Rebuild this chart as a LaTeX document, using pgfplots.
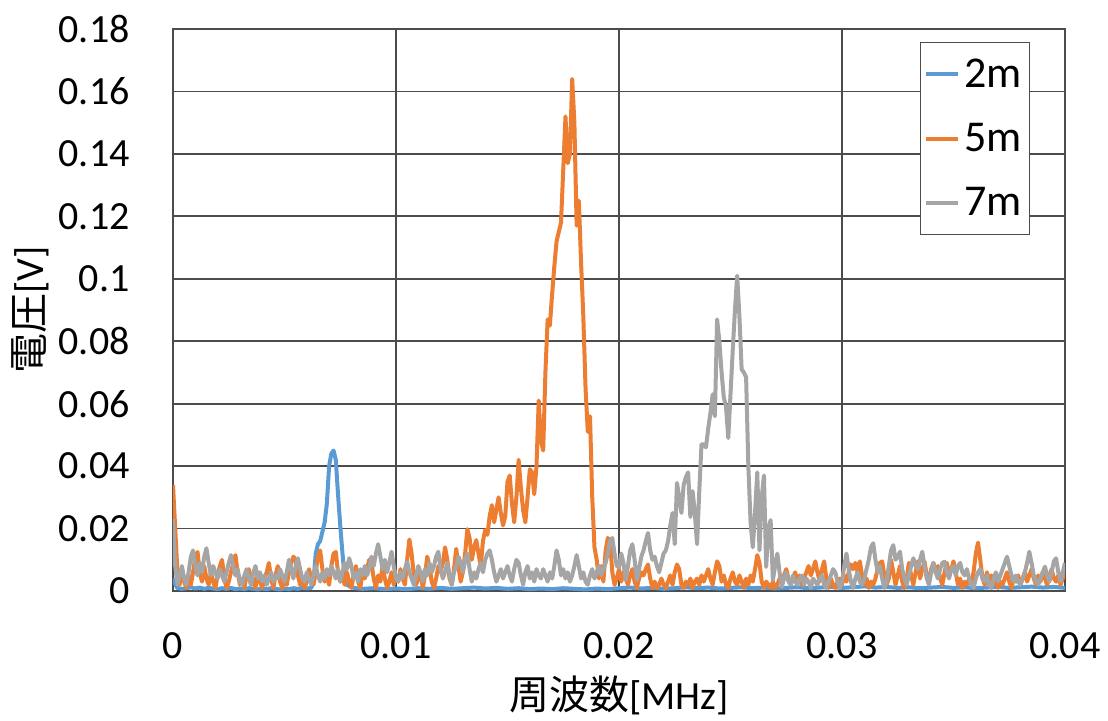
\documentclass[border=0pt]{standalone}
\usepackage{fontspec}
\setmainfont{Carlito}
\newfontfamily\cjk{Noto Sans CJK JP}
\usepackage{pgfplots}
\pgfplotsset{compat=1.18}
\definecolor{cblue}{HTML}{5B9BD5}
\definecolor{corange}{HTML}{ED7D31}
\definecolor{cgray}{HTML}{A5A5A5}
\newcommand{\bigf}{\fontsize{20}{24}\selectfont}
\newcommand{\legf}{\fontsize{22}{26}\selectfont}
\begin{document}
\begin{tikzpicture}
\useasboundingbox (-86.5pt,-64.5pt) rectangle (467.5pt,295.5pt);
\begin{axis}[
  scale only axis, width=446pt, height=281pt,
  xmin=0, xmax=0.04, ymin=0, ymax=0.18,
  xtick={0,0.01,0.02,0.03,0.04},
  xticklabels={0,0.01,0.02,0.03,0.04},
  ytick={0,0.02,0.04,0.06,0.08,0.1,0.12,0.14,0.16,0.18},
  yticklabels={0,0.02,0.04,0.06,0.08,0.1,0.12,0.14,0.16,0.18},
  major tick length=0pt,
  grid=major,
  grid style={black!70, line width=0.9pt},
  axis line style={black!70, line width=0.9pt},
  xticklabel style={font=\bigf, anchor=center, inner sep=0pt, yshift=-27.3pt},
  yticklabel style={font=\bigf, anchor=east, inner sep=0pt, xshift=-21.5pt},
  xlabel={{\cjk 周波数}[MHz]},
  ylabel={{\cjk 電圧}[V]},
  xlabel style={font=\bigf, at={(axis description cs:0.5,-0.185)}, anchor=center},
  ylabel style={font=\bigf, at={(axis description cs:-0.16,0.5)}, anchor=center},
  legend style={font=\legf, draw=black!70, line width=0.6pt, at={(0.961,0.977)}, anchor=north east,
    inner xsep=2pt, inner ysep=6pt, row sep=12.5pt, cells={anchor=west}},
  legend image code/.code={\draw[#1, line width=2pt] (0pt,0pt) -- (16pt,0pt);},
  every axis plot/.append style={line width=2pt, line join=round, mark=none},
]
\addplot[cblue] coordinates {
(0,0.004)(0.0001,0.0022)(0.0002,0.0009)(0.0004,0.0007)(0.0006,0.0009)(0.0008,0.0012)(0.0010,0.0008)
(0.0012,0.0011)(0.0014,0.0007)(0.0016,0.0010)(0.0018,0.0008)(0.0020,0.0006)(0.0022,0.0009)(0.0024,0.0007)
(0.0026,0.0010)(0.0028,0.0006)(0.0030,0.0008)(0.0032,0.0006)(0.0034,0.0009)(0.0036,0.0007)(0.0038,0.0005)
(0.0040,0.0008)(0.0042,0.0006)(0.0044,0.0009)(0.0046,0.0007)(0.0048,0.0005)(0.0050,0.0008)(0.0052,0.0006)
(0.0054,0.0009)(0.0056,0.0007)(0.0058,0.0010)(0.0060,0.0008)(0.0062,0.0010)(0.0063,0.003)(0.0064,0.012)
(0.0065,0.015)(0.0066,0.016)(0.0067,0.019)(0.0068,0.022)(0.0069,0.028)(0.0070,0.040)(0.0071,0.044)
(0.0072,0.045)(0.0073,0.042)(0.0074,0.031)(0.0075,0.021)(0.0076,0.012)(0.0077,0.004)(0.0078,0.002)
(0.0080,0.0012)(0.0082,0.0009)(0.0085,0.0007)(0.0090,0.0009)(0.0095,0.0006)(0.0100,0.0008)(0.0105,0.0006)
(0.0110,0.0009)(0.0115,0.0007)(0.0120,0.0010)(0.0125,0.0007)(0.0130,0.0009)(0.0135,0.0011)(0.0140,0.0008)
(0.0145,0.0010)(0.0150,0.0007)(0.0155,0.0009)(0.0160,0.0006)(0.0165,0.0008)(0.0170,0.0006)(0.0175,0.0009)
(0.0180,0.0007)(0.0185,0.0005)(0.0190,0.0008)(0.0195,0.0006)(0.0200,0.0009)(0.0205,0.0011)(0.0210,0.0008)
(0.0215,0.0010)(0.0220,0.0007)(0.0225,0.0009)(0.0230,0.0012)(0.0235,0.0009)(0.0240,0.0011)(0.0245,0.0008)
(0.0250,0.0010)(0.0255,0.0012)(0.0260,0.0009)(0.0265,0.0011)(0.0270,0.0008)(0.0275,0.0010)(0.0280,0.0012)
(0.0285,0.0009)(0.0290,0.0011)(0.0295,0.0013)(0.0300,0.0010)(0.0305,0.0012)(0.0310,0.0015)(0.0315,0.0011)
(0.0320,0.0013)(0.0325,0.0010)(0.0330,0.0012)(0.0335,0.0009)(0.0340,0.0011)(0.0345,0.0013)(0.0350,0.0010)
(0.0355,0.0012)(0.0360,0.0009)(0.0365,0.0011)(0.0370,0.0013)(0.0375,0.0010)(0.0380,0.0012)(0.0385,0.0014)
(0.0390,0.0011)(0.0395,0.0013)(0.0400,0.0010)
};
\addlegendentry{2m}
\addplot[corange] coordinates {
(0,0.034)(0.0001,0.020)(0.0002,0.006)(0.0003,0.002)(0.0004,0.007)(0.0005,0.003)(0.0006,0.001)(0.0007,0.005)
(0.0008,0.002)(0.0009,0.006)(0.0010,0.011)(0.0011,0.0125)(0.0012,0.006)(0.0013,0.003)(0.0014,0.008)(0.0015,0.004)
(0.0016,0.002)(0.0017,0.006)(0.0018,0.003)(0.0019,0.001)(0.0020,0.005)(0.0021,0.008)(0.0022,0.010)(0.0023,0.004)
(0.0024,0.001)(0.0025,0.003)(0.0026,0.006)(0.0027,0.009)(0.0028,0.0115)(0.0029,0.006)(0.0030,0.002)(0.0031,0.004)
(0.0032,0.001)(0.0033,0.005)(0.0034,0.007)(0.0035,0.002)(0.0036,0.004)(0.0037,0.001)(0.0038,0.006)(0.0039,0.003)
(0.0040,0.001)(0.0041,0.004)(0.0042,0.006)(0.0043,0.009)(0.0044,0.004)(0.0045,0.001)(0.0046,0.005)(0.0047,0.008)
(0.0048,0.003)(0.0049,0.001)(0.0050,0.004)(0.0051,0.002)(0.0052,0.006)(0.0053,0.009)(0.0054,0.011)(0.0055,0.010)
(0.0056,0.005)(0.0057,0.002)(0.0058,0.004)(0.0059,0.001)(0.0060,0.003)(0.0061,0.007)(0.0062,0.004)(0.0063,0.002)
(0.0064,0.006)(0.0065,0.011)(0.0066,0.013)(0.0067,0.007)(0.0068,0.003)(0.0069,0.005)(0.0070,0.002)(0.0071,0.008)
(0.0072,0.012)(0.0073,0.0125)(0.0074,0.006)(0.0075,0.003)(0.0076,0.005)(0.0077,0.002)(0.0078,0.006)(0.0079,0.003)
(0.0080,0.001)(0.0081,0.005)(0.0082,0.008)(0.0083,0.003)(0.0084,0.001)(0.0085,0.006)(0.0086,0.004)(0.0087,0.007)
(0.0088,0.010)(0.0089,0.009)(0.0090,0.004)(0.0091,0.001)(0.0092,0.005)(0.0093,0.003)(0.0094,0.008)(0.0095,0.004)
(0.0096,0.001)(0.0097,0.003)(0.0098,0.006)(0.0099,0.002)(0.0100,0.005)(0.0101,0.003)(0.0102,0.007)(0.0103,0.004)
(0.0104,0.002)(0.0105,0.010)(0.0106,0.0165)(0.0107,0.012)(0.0108,0.005)(0.0109,0.002)(0.0110,0.004)(0.0111,0.006)
(0.0112,0.001)(0.0113,0.005)(0.0114,0.011)(0.0115,0.008)(0.0116,0.003)(0.0117,0.001)(0.0118,0.004)(0.0119,0.008)
(0.0120,0.006)(0.0121,0.009)(0.0122,0.014)(0.0123,0.010)(0.0124,0.004)(0.0125,0.002)(0.0126,0.007)(0.0127,0.0135)
(0.0128,0.008)(0.0129,0.003)(0.0130,0.006)(0.0131,0.012)(0.0132,0.0198)(0.0133,0.017)(0.0134,0.010)(0.0135,0.014)
(0.0136,0.0163)(0.0137,0.012)(0.0138,0.008)(0.0139,0.016)(0.0140,0.0195)(0.0141,0.018)(0.0142,0.024)(0.0143,0.0275)
(0.0144,0.022)(0.0145,0.026)(0.0146,0.030)(0.0147,0.025)(0.0148,0.021)(0.0149,0.024)(0.0150,0.035)(0.0151,0.037)
(0.0152,0.028)(0.0153,0.022)(0.0154,0.030)(0.0155,0.042)(0.0156,0.033)(0.0157,0.026)(0.0158,0.022)(0.0159,0.030)
(0.0160,0.039)(0.0161,0.038)(0.0162,0.031)(0.0163,0.040)(0.0164,0.061)(0.0165,0.048)(0.0166,0.045)(0.0167,0.070)
(0.0168,0.087)(0.0169,0.085)(0.0170,0.095)(0.0171,0.104)(0.0172,0.112)(0.0173,0.115)(0.0174,0.118)(0.0175,0.135)
(0.0176,0.152)(0.0177,0.137)(0.0178,0.140)(0.0179,0.164)(0.0180,0.150)(0.0181,0.117)(0.0182,0.125)(0.0183,0.105)
(0.0184,0.088)(0.0185,0.065)(0.0186,0.051)(0.0187,0.056)(0.0188,0.030)(0.0189,0.014)(0.0190,0.010)(0.0191,0.004)
(0.0192,0.008)(0.0193,0.003)(0.0194,0.013)(0.0195,0.017)(0.0196,0.0158)(0.0197,0.006)(0.0198,0.002)(0.0199,0.004)
(0.0200,0.007)(0.0201,0.003)(0.0202,0.006)(0.0203,0.004)(0.0204,0.002)(0.0205,0.005)(0.0206,0.007)(0.0207,0.003)
(0.0208,0.001)(0.0209,0.004)(0.0210,0.006)(0.0211,0.005)(0.0212,0.007)(0.0213,0.0085)(0.0214,0.004)(0.0215,0.001)
(0.0216,0.003)(0.0217,0.001)(0.0218,0.002)(0.0219,0.004)(0.0220,0.002)(0.0221,0.001)(0.0222,0.003)(0.0223,0.005)
(0.0224,0.002)(0.0225,0.006)(0.0226,0.0085)(0.0227,0.007)(0.0228,0.002)(0.0229,0.001)(0.0230,0.003)(0.0231,0.002)
(0.0232,0.004)(0.0233,0.001)(0.0234,0.003)(0.0235,0.004)(0.0236,0.002)(0.0237,0.005)(0.0238,0.003)(0.0239,0.005)
(0.0240,0.007)(0.0241,0.004)(0.0242,0.002)(0.0243,0.006)(0.0244,0.0095)(0.0245,0.008)(0.0246,0.003)(0.0247,0.005)
(0.0248,0.002)(0.0249,0.001)(0.0250,0.004)(0.0251,0.006)(0.0252,0.003)(0.0253,0.002)(0.0254,0.005)(0.0255,0.003)
(0.0256,0.001)(0.0257,0.004)(0.0258,0.002)(0.0259,0.005)(0.0260,0.003)(0.0261,0.007)(0.0262,0.0115)(0.0263,0.009)
(0.0264,0.003)(0.0265,0.001)(0.0266,0.003)(0.0267,0.002)(0.0268,0.001)(0.0269,0.003)(0.0270,0.001)(0.0271,0.002)
(0.0272,0.004)(0.0273,0.003)(0.0274,0.005)(0.0275,0.007)(0.0276,0.004)(0.0277,0.002)(0.0278,0.004)(0.0279,0.006)
(0.0280,0.003)(0.0281,0.005)(0.0282,0.002)(0.0283,0.004)(0.0284,0.006)(0.0285,0.008)(0.0286,0.005)(0.0287,0.007)
(0.0288,0.0095)(0.0289,0.006)(0.0290,0.003)(0.0291,0.007)(0.0292,0.0095)(0.0293,0.004)(0.0294,0.001)(0.0295,0.004)
(0.0296,0.002)(0.0297,0.001)(0.0298,0.003)(0.0299,0.004)(0.0300,0.002)(0.0301,0.005)(0.0302,0.003)(0.0303,0.006)
(0.0304,0.0085)(0.0305,0.007)(0.0306,0.009)(0.0307,0.006)(0.0308,0.0095)(0.0309,0.005)(0.0310,0.002)(0.0311,0.004)
(0.0312,0.001)(0.0313,0.003)(0.0314,0.002)(0.0315,0.004)(0.0316,0.007)(0.0317,0.009)(0.0318,0.0095)(0.0319,0.005)
(0.0320,0.002)(0.0321,0.004)(0.0322,0.010)(0.0323,0.006)(0.0324,0.002)(0.0325,0.005)(0.0326,0.008)(0.0327,0.003)
(0.0328,0.001)(0.0329,0.004)(0.0330,0.009)(0.0331,0.005)(0.0332,0.002)(0.0333,0.006)(0.0334,0.0095)(0.0335,0.004)
(0.0336,0.007)(0.0337,0.0095)(0.0338,0.005)(0.0339,0.003)(0.0340,0.007)(0.0341,0.009)(0.0342,0.006)(0.0343,0.008)
(0.0344,0.004)(0.0345,0.002)(0.0346,0.006)(0.0347,0.009)(0.0348,0.005)(0.0349,0.007)(0.0350,0.0095)(0.0351,0.006)
(0.0352,0.002)(0.0353,0.004)(0.0354,0.001)(0.0355,0.003)(0.0356,0.002)(0.0357,0.004)(0.0358,0.003)(0.0359,0.006)
(0.0360,0.012)(0.0361,0.0155)(0.0362,0.010)(0.0363,0.004)(0.0364,0.002)(0.0365,0.006)(0.0366,0.003)(0.0367,0.005)
(0.0368,0.002)(0.0369,0.004)(0.0370,0.001)(0.0371,0.003)(0.0372,0.002)(0.0373,0.004)(0.0374,0.006)(0.0375,0.003)
(0.0376,0.001)(0.0377,0.004)(0.0378,0.003)(0.0379,0.005)(0.0380,0.002)(0.0381,0.004)(0.0382,0.006)(0.0383,0.003)
(0.0384,0.005)(0.0385,0.007)(0.0386,0.004)(0.0387,0.002)(0.0388,0.005)(0.0389,0.003)(0.0390,0.006)(0.0391,0.004)
(0.0392,0.002)(0.0393,0.005)(0.0394,0.007)(0.0395,0.004)(0.0396,0.003)(0.0397,0.005)(0.0398,0.002)(0.0399,0.004)
(0.0400,0.006)
};
\addlegendentry{5m}
\addplot[cgray] coordinates {
(0,0.023)(0.0001,0.008)(0.0002,0.002)(0.0003,0.005)(0.0004,0.008)(0.0005,0.004)(0.0006,0.002)(0.0007,0.006)
(0.0008,0.011)(0.0009,0.013)(0.0010,0.008)(0.0011,0.005)(0.0012,0.009)(0.0013,0.006)(0.0014,0.011)(0.0015,0.0137)
(0.0016,0.009)(0.0017,0.005)(0.0018,0.008)(0.0019,0.006)(0.0020,0.004)(0.0021,0.007)(0.0022,0.005)(0.0023,0.003)
(0.0024,0.006)(0.0025,0.009)(0.0026,0.0115)(0.0027,0.008)(0.0028,0.005)(0.0029,0.007)(0.0030,0.003)(0.0031,0.002)
(0.0032,0.005)(0.0033,0.007)(0.0034,0.004)(0.0035,0.002)(0.0036,0.006)(0.0037,0.008)(0.0038,0.004)(0.0039,0.006)
(0.0040,0.003)(0.0041,0.005)(0.0042,0.002)(0.0043,0.004)(0.0044,0.006)(0.0045,0.003)(0.0046,0.005)(0.0047,0.004)
(0.0048,0.007)(0.0049,0.005)(0.0050,0.003)(0.0051,0.006)(0.0052,0.010)(0.0053,0.007)(0.0054,0.004)(0.0055,0.008)
(0.0056,0.0105)(0.0057,0.007)(0.0058,0.004)(0.0059,0.003)(0.0060,0.006)(0.0061,0.004)(0.0062,0.002)(0.0063,0.005)
(0.0064,0.008)(0.0065,0.005)(0.0066,0.003)(0.0067,0.006)(0.0068,0.004)(0.0069,0.007)(0.0070,0.005)(0.0071,0.008)
(0.0072,0.006)(0.0073,0.004)(0.0074,0.007)(0.0075,0.003)(0.0076,0.006)(0.0077,0.009)(0.0078,0.007)(0.0079,0.0105)
(0.0080,0.008)(0.0081,0.004)(0.0082,0.006)(0.0083,0.003)(0.0084,0.007)(0.0085,0.005)(0.0086,0.008)(0.0087,0.005)
(0.0088,0.007)(0.0089,0.011)(0.0090,0.008)(0.0091,0.012)(0.0092,0.015)(0.0093,0.011)(0.0094,0.007)(0.0095,0.010)
(0.0096,0.006)(0.0097,0.009)(0.0098,0.0126)(0.0099,0.008)(0.0100,0.004)(0.0101,0.003)(0.0102,0.006)(0.0103,0.004)
(0.0104,0.007)(0.0105,0.0094)(0.0106,0.006)(0.0107,0.004)(0.0108,0.002)(0.0109,0.005)(0.0110,0.008)(0.0111,0.006)
(0.0112,0.003)(0.0113,0.007)(0.0114,0.005)(0.0115,0.009)(0.0116,0.006)(0.0117,0.008)(0.0118,0.011)(0.0119,0.0126)
(0.0120,0.007)(0.0121,0.004)(0.0122,0.006)(0.0123,0.009)(0.0124,0.005)(0.0125,0.002)(0.0126,0.006)(0.0127,0.008)
(0.0128,0.011)(0.0129,0.009)(0.0130,0.006)(0.0131,0.010)(0.0132,0.012)(0.0133,0.007)(0.0134,0.003)(0.0135,0.006)
(0.0136,0.004)(0.0137,0.007)(0.0138,0.009)(0.0139,0.006)(0.0140,0.010)(0.0141,0.012)(0.0142,0.013)(0.0143,0.010)
(0.0144,0.006)(0.0145,0.003)(0.0146,0.005)(0.0147,0.007)(0.0148,0.004)(0.0149,0.006)(0.0150,0.008)(0.0151,0.005)
(0.0152,0.003)(0.0153,0.007)(0.0154,0.010)(0.0155,0.009)(0.0156,0.005)(0.0157,0.002)(0.0158,0.006)(0.0159,0.008)
(0.0160,0.004)(0.0161,0.006)(0.0162,0.003)(0.0163,0.007)(0.0164,0.005)(0.0165,0.004)(0.0166,0.007)(0.0167,0.005)
(0.0168,0.003)(0.0169,0.006)(0.0170,0.004)(0.0171,0.008)(0.0172,0.013)(0.0173,0.010)(0.0174,0.005)(0.0175,0.007)
(0.0176,0.004)(0.0177,0.006)(0.0178,0.003)(0.0179,0.005)(0.0180,0.008)(0.0181,0.0115)(0.0182,0.008)(0.0183,0.004)
(0.0184,0.006)(0.0185,0.003)(0.0186,0.002)(0.0187,0.005)(0.0188,0.007)(0.0189,0.004)(0.0190,0.006)(0.0191,0.008)
(0.0192,0.005)(0.0193,0.007)(0.0194,0.009)(0.0195,0.012)(0.0196,0.016)(0.0197,0.017)(0.0198,0.012)(0.0199,0.008)
(0.0200,0.0077)(0.0201,0.012)(0.0202,0.009)(0.0203,0.0035)(0.0204,0.008)(0.0205,0.013)(0.0206,0.015)(0.0207,0.010)
(0.0208,0.0035)(0.0209,0.007)(0.0210,0.011)(0.0211,0.013)(0.0212,0.016)(0.0213,0.0186)(0.0214,0.013)(0.0215,0.010)
(0.0216,0.011)(0.0217,0.008)(0.0218,0.006)(0.0219,0.009)(0.0220,0.012)(0.0221,0.013)(0.0222,0.016)(0.0223,0.021)
(0.0224,0.025)(0.0225,0.015)(0.0226,0.0346)(0.0227,0.030)(0.0228,0.025)(0.0229,0.034)(0.0230,0.0365)(0.0231,0.038)
(0.0232,0.0237)(0.0233,0.032)(0.0234,0.025)(0.0235,0.015)(0.0236,0.032)(0.0237,0.047)(0.0238,0.047)(0.0239,0.046)
(0.0240,0.052)(0.0241,0.057)(0.0242,0.063)(0.0243,0.056)(0.0244,0.087)(0.0245,0.080)(0.0246,0.070)(0.0247,0.062)
(0.0248,0.059)(0.0249,0.049)(0.0250,0.063)(0.0251,0.077)(0.0252,0.090)(0.0253,0.101)(0.0254,0.088)(0.0255,0.071)
(0.0256,0.070)(0.0257,0.0685)(0.0258,0.040)(0.0259,0.022)(0.0260,0.014)(0.0261,0.025)(0.0262,0.038)(0.0263,0.013)
(0.0264,0.030)(0.0265,0.037)(0.0266,0.0077)(0.0267,0.020)(0.0268,0.0227)(0.0269,0.0035)(0.0270,0.008)(0.0271,0.012)
(0.0272,0.006)(0.0273,0.0013)(0.0274,0.004)(0.0275,0.006)(0.0276,0.003)(0.0277,0.002)(0.0278,0.005)(0.0279,0.003)
(0.0280,0.002)(0.0281,0.004)(0.0282,0.005)(0.0283,0.002)(0.0284,0.004)(0.0285,0.003)(0.0286,0.001)(0.0287,0.004)
(0.0288,0.003)(0.0289,0.002)(0.0290,0.004)(0.0291,0.005)(0.0292,0.002)(0.0293,0.001)(0.0294,0.003)(0.0295,0.005)
(0.0296,0.007)(0.0297,0.006)(0.0298,0.003)(0.0299,0.001)(0.0300,0.003)(0.0301,0.008)(0.0302,0.012)(0.0303,0.007)
(0.0304,0.003)(0.0305,0.001)(0.0306,0.004)(0.0307,0.006)(0.0308,0.003)(0.0309,0.002)(0.0310,0.004)(0.0311,0.007)
(0.0312,0.010)(0.0313,0.014)(0.0314,0.0153)(0.0315,0.010)(0.0316,0.006)(0.0317,0.008)(0.0318,0.004)(0.0319,0.001)
(0.0320,0.003)(0.0321,0.008)(0.0322,0.013)(0.0323,0.0147)(0.0324,0.010)(0.0325,0.011)(0.0326,0.0126)(0.0327,0.007)
(0.0328,0.004)(0.0329,0.002)(0.0330,0.005)(0.0331,0.008)(0.0332,0.0105)(0.0333,0.008)(0.0334,0.007)(0.0335,0.010)
(0.0336,0.0126)(0.0337,0.008)(0.0338,0.004)(0.0339,0.002)(0.0340,0.006)(0.0341,0.009)(0.0342,0.006)(0.0343,0.004)
(0.0344,0.007)(0.0345,0.009)(0.0346,0.0094)(0.0347,0.006)(0.0348,0.004)(0.0349,0.007)(0.0350,0.008)(0.0351,0.005)
(0.0352,0.008)(0.0353,0.009)(0.0354,0.006)(0.0355,0.005)(0.0356,0.007)(0.0357,0.004)(0.0358,0.002)(0.0359,0.001)
(0.0360,0.004)(0.0361,0.006)(0.0362,0.007)(0.0363,0.004)(0.0364,0.003)(0.0365,0.005)(0.0366,0.002)(0.0367,0.001)
(0.0368,0.004)(0.0369,0.006)(0.0370,0.003)(0.0371,0.005)(0.0372,0.007)(0.0373,0.009)(0.0374,0.011)(0.0375,0.008)
(0.0376,0.005)(0.0377,0.003)(0.0378,0.005)(0.0379,0.003)(0.0380,0.002)(0.0381,0.004)(0.0382,0.006)(0.0383,0.009)
(0.0384,0.0126)(0.0385,0.009)(0.0386,0.005)(0.0387,0.003)(0.0388,0.002)(0.0389,0.004)(0.0390,0.006)(0.0391,0.0078)
(0.0392,0.005)(0.0393,0.003)(0.0394,0.006)(0.0395,0.0095)(0.0396,0.0105)(0.0397,0.006)(0.0398,0.003)(0.0399,0.006)
(0.0400,0.009)
};
\addlegendentry{7m}
\end{axis}
\end{tikzpicture}
\end{document}
